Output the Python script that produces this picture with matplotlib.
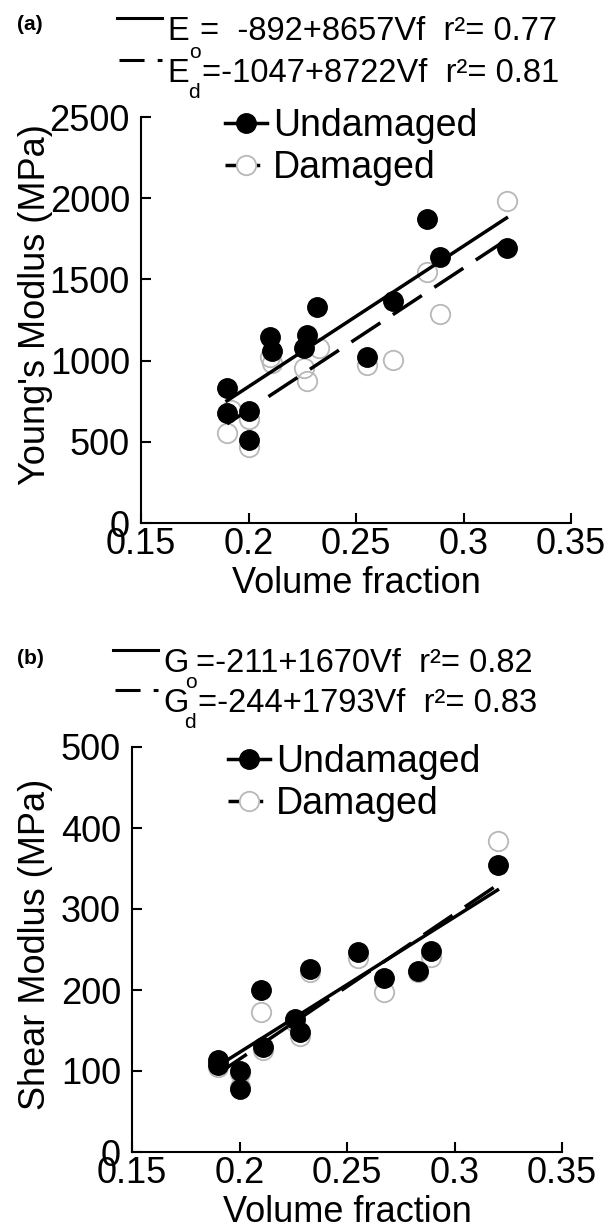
import matplotlib
matplotlib.use('Agg')
import matplotlib.pyplot as plt
from matplotlib.lines import Line2D
import numpy as np

plt.rcParams['font.family'] = ['Liberation Sans', 'DejaVu Sans']

# panel (a): Young's modulus vs volume fraction
vf_a_und = [0.190, 0.190, 0.200, 0.200, 0.210, 0.211, 0.226, 0.227, 0.232, 0.255, 0.267, 0.283, 0.289, 0.320]
E_und = [833, 679, 691, 512, 1148, 1062, 1080, 1160, 1327, 1025, 1364, 1870, 1636, 1691]
vf_a_dam = [0.190, 0.192, 0.200, 0.200, 0.210, 0.211, 0.226, 0.227, 0.233, 0.255, 0.267, 0.283, 0.289, 0.320]
E_dam = [556, 697, 642, 469, 1025, 988, 957, 877, 1080, 975, 1005, 1543, 1284, 1981]
fit_a_und = (-892, 8657)
fit_a_dam = (-1047, 8722)

# panel (b): shear modulus vs volume fraction
vf_b_und = [0.190, 0.190, 0.200, 0.200, 0.210, 0.211, 0.226, 0.228, 0.233, 0.255, 0.267, 0.283, 0.289, 0.320]
G_und = [114, 108, 100, 78, 200, 130, 164, 148, 226, 247, 215, 224, 248, 354]
vf_b_dam = [0.190, 0.190, 0.200, 0.200, 0.210, 0.211, 0.226, 0.228, 0.233, 0.255, 0.267, 0.283, 0.289, 0.320]
G_dam = [110, 105, 98, 80, 173, 126, 160, 143, 222, 240, 198, 222, 241, 384]
fit_b_und = (-211, 1670)
fit_b_dam = (-244, 1793)

vf_ticks = [0.15, 0.2, 0.25, 0.3, 0.35]
vf_ticklabels = ['0.15', '0.2', '0.25', '0.3', '0.35']

W, H = 613, 1228
DASH = (10, 4.3)


def fxy(x, y):
    return x / W, 1 - y / H


def style(ax, ymax, ystep):
    ax.set_xlim(0.15, 0.35)
    ax.set_ylim(0, ymax)
    ax.set_xticks(vf_ticks)
    ax.set_xticklabels(vf_ticklabels)
    ax.set_yticks(np.arange(0, ymax + 1, ystep))
    for s in ('top', 'right'):
        ax.spines[s].set_visible(False)
    for s in ('left', 'bottom'):
        ax.spines[s].set_linewidth(1.5)
    ax.tick_params(direction='in', length=7, width=1.5, labelsize=26)
    ax.tick_params(axis='x', pad=3)
    ax.tick_params(axis='y', pad=8)
    ax.set_xlabel('Volume fraction', fontsize=26, labelpad=3)


def panel(ax, vf_u, y_u, vf_d, y_d, fit_u, fit_d):
    ax.plot(vf_d, y_d, 'o', ms=14, mfc='none', mec='#b8b8b8', mew=1.3, zorder=2)
    ax.plot(vf_u, y_u, 'o', ms=14, color='k', zorder=3)
    xu = np.array([min(vf_u), max(vf_u)])
    xd = np.array([min(vf_d), max(vf_d)])
    ax.plot(xu, fit_u[0] + fit_u[1] * xu, '-', color='k', lw=2.5, zorder=4)
    ax.plot(xd, fit_d[0] + fit_d[1] * xd, '--', color='k', lw=2.5,
            dashes=DASH, zorder=4)
    h1 = Line2D([], [], color='k', lw=2.5, marker='o', ms=14)
    h2 = Line2D([], [], color='k', lw=2.5, dashes=DASH, marker='o', ms=14,
                mfc='white', mec='#b8b8b8', mew=1.3)
    return h1, h2


def header(tag, sym, eq1, eq2, x0, y1, y2, ytag, yline):
    # x0: left of the symbol, y1/y2: centre of the two equation lines
    fig.text(*fxy(30, ytag), tag, fontsize=15, fontweight='bold',
             ha='center', va='center')
    fig.add_artist(Line2D([(x0 - 50) / W, (x0 - 5) / W],
                          [1 - yline / H] * 2, color='k', lw=2.2))
    fig.add_artist(Line2D([(x0 - 48) / W, (x0 - 5) / W],
                          [1 - (y2 - 14) / H] * 2, color='k', lw=2.2,
                          dashes=(8.2, 4.3)))
    fig.text(*fxy(x0, y1), sym, fontsize=23.5, va='center')
    fig.text(*fxy(x0 + 33, y1), eq1, fontsize=23.5, va='center')
    fig.text(*fxy(x0, y2), sym, fontsize=23.5, va='center')
    fig.text(*fxy(x0 + 35, y2), eq2, fontsize=23.5, va='center')
    fig.text(*fxy(x0 + 28, y2 - 21), 'o', fontsize=15, ha='center', va='center')
    fig.text(*fxy(x0 + 27, y2 + 19), 'd', fontsize=15, ha='center', va='center')


fig = plt.figure(figsize=(W / 100, H / 100), dpi=100)
ax_a = fig.add_axes([141 / W, 1 - 523 / H, 430 / W, 406 / H])
ax_b = fig.add_axes([132 / W, 1 - 1152 / H, 430 / W, 405 / H])

style(ax_a, 2500, 500)
style(ax_b, 500, 100)
ax_a.set_ylabel("Young's Modlus (MPa)", fontsize=26)
ax_a.yaxis.set_label_coords(-0.205, 0.537)
ax_b.set_ylabel('Shear Modlus (MPa)', fontsize=26)
ax_b.yaxis.set_label_coords(-0.184, 0.513)

ha = panel(ax_a, vf_a_und, E_und, vf_a_dam, E_dam, fit_a_und, fit_a_dam)
hb = panel(ax_b, vf_b_und, G_und, vf_b_dam, G_dam, fit_b_und, fit_b_dam)

for ax, h, x, y in ((ax_a, ha, 225, 108), (ax_b, hb, 228, 744)):
    ax.legend(h, ['Undamaged', 'Damaged'], loc='upper left',
              bbox_to_anchor=fxy(x, y), bbox_transform=fig.transFigure,
              frameon=False, fontsize=27, handlelength=1.13,
              handletextpad=0.15, labelspacing=0.17, borderpad=0,
              borderaxespad=0, numpoints=1)

header('(a)', 'E', '=  -892+8657Vf  r\u00b2= 0.77', '=-1047+8722Vf  r\u00b2= 0.81',
       167, 32, 74, 24, 18)
header('(b)', 'G', '=-211+1670Vf  r\u00b2= 0.82', '=-244+1793Vf  r\u00b2= 0.83',
       163, 664, 704, 658, 650)

fig.savefig('out.png', dpi=100)
